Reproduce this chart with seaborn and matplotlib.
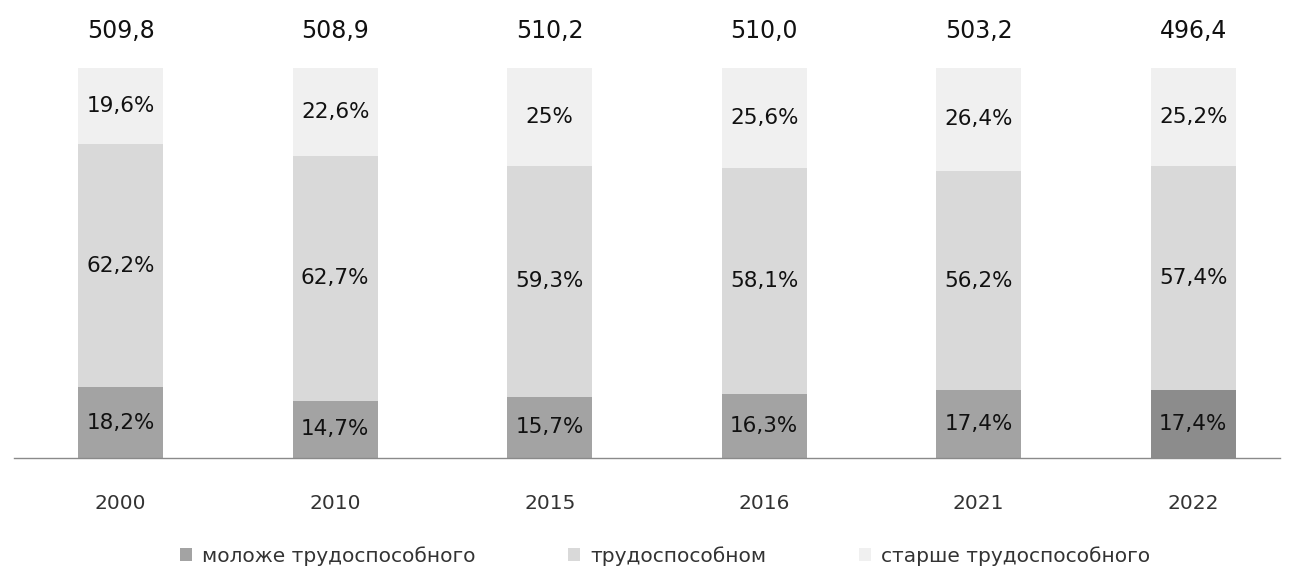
import pandas as pd
import seaborn as sns
import matplotlib.pyplot as plt
from matplotlib.patches import Patch

years = ["2000", "2010", "2015", "2016", "2021", "2022"]
totals = ["509,8", "508,9", "510,2", "510,0", "503,2", "496,4"]
young = [18.2, 14.7, 15.7, 16.3, 17.4, 17.4]
working = [62.2, 62.7, 59.3, 58.1, 56.2, 57.4]
old = [19.6, 22.6, 25.0, 25.6, 26.4, 25.2]
series_names = ["моложе трудоспособного", "трудоспособном", "старше трудоспособного"]

c_young = "#a3a3a3"
c_young_last = "#8c8c8c"
c_work = "#d9d9d9"
c_old = "#f0f0f0"


def fmt(v):
    s = f"{v:.1f}".replace(".", ",")
    if s.endswith(",0"):
        s = s[:-2]
    return s + "%"


df = pd.DataFrame({"year": years, "young": young, "working": working, "old": old})
df["lvl2"] = df["young"] + df["working"]
df["lvl3"] = df["lvl2"] + df["old"]

sns.set_theme(style="white")
plt.rcParams["font.family"] = ["DejaVu Sans"]

fig = plt.figure(figsize=(12.91, 5.74), dpi=100)
# axes: x=-0.5 at 13.5px, 214.5px per category; 100% = 390px, baseline at 458px
ax = fig.add_axes([13.5 / 1291, 116 / 574, 1266.5 / 1291, 448.5 / 574])

w = 0.396
sns.barplot(data=df, x="year", y="lvl3", color=c_old, width=w, ax=ax, saturation=1, linewidth=0)
sns.barplot(data=df, x="year", y="lvl2", color=c_work, width=w, ax=ax, saturation=1, linewidth=0)
young_cols = [c_young] * (len(years) - 1) + [c_young_last]
sns.barplot(data=df, x="year", y="young", hue="year", palette=young_cols,
            width=w, ax=ax, saturation=1, legend=False, linewidth=0)

for i, row in df.iterrows():
    ax.text(i, row["young"] / 2, fmt(row["young"]), ha="center", va="center", fontsize=15.5, color="#111111")
    ax.text(i, row["young"] + row["working"] / 2, fmt(row["working"]), ha="center", va="center",
            fontsize=15.5, color="#111111")
    ax.text(i, row["lvl2"] + row["old"] / 2, fmt(row["old"]), ha="center", va="center",
            fontsize=15.5, color="#111111")
    ax.text(i, 109.5, totals[i], ha="center", va="center", fontsize=17, color="#111111")

ax.set_xlim(-0.5, 5.405)
ax.set_ylim(0, 115)
ax.set_xlabel("")
ax.set_ylabel("")
ax.set_yticks([])
ax.tick_params(axis="x", labelsize=14.5, pad=26, length=0, colors="#333333")
sns.despine(ax=ax, left=True, top=True, right=True)
ax.spines["bottom"].set_color("#8a8a8a")
ax.spines["bottom"].set_linewidth(1)

handles = [Patch(facecolor=c_young, edgecolor="none"),
           Patch(facecolor=c_work, edgecolor="none"),
           Patch(facecolor=c_old, edgecolor="none")]
fig.legend(handles, series_names, loc="center", bbox_to_anchor=(665 / 1291, 1 - 556 / 574),
           ncol=3, frameon=False, fontsize=14.5, handlelength=0.6, handleheight=0.6,
           handletextpad=0.5, columnspacing=4.6, labelcolor="#333333")

fig.savefig("out.png", dpi=100)
